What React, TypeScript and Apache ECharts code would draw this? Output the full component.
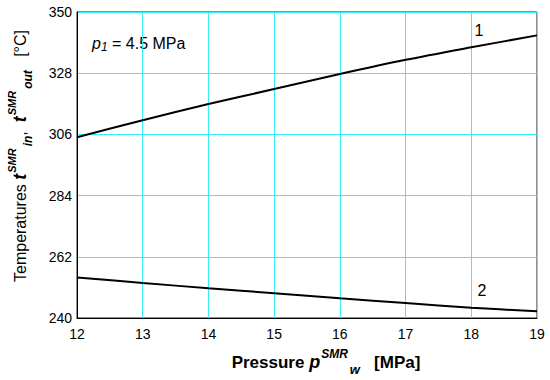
import React, { useEffect, useRef } from "react";
import * as echarts from "echarts";

const Y_BASE = 240;
const pressure = [12, 13, 14, 15, 16, 17, 18, 19];
const tOut = [305.0, 311.1, 316.9, 322.3, 327.7, 332.8, 337.3, 341.6];
const tIn = [254.6, 252.6, 250.7, 248.9, 247.1, 245.4, 243.7, 242.4];
const yTicks = [240, 262, 284, 306, 328, 350];
const xTicks = [12, 13, 14, 15, 16, 17, 18, 19];

const FONT = "'Liberation Sans', Arial, sans-serif";

export default function App() {
  const ref = useRef<HTMLDivElement>(null);
  useEffect(() => {
    if (!ref.current) return;
    document.body.style.margin = "0";
    document.body.style.overflow = "hidden";
    const chart = echarts.init(ref.current, null, { renderer: "svg" });
    const mk = (vals: number[]) => pressure.map((p, i) => [p, vals[i] - Y_BASE]);
    chart.setOption({
      animation: false,
      textStyle: { fontFamily: FONT },
      grid: { left: 77, right: 13, top: 12, bottom: 62, show: true, borderColor: "#222", borderWidth: 1, containLabel: false },
      xAxis: {
        type: "value",
        min: xTicks[0],
        max: xTicks[xTicks.length - 1],
        interval: 1,
        axisLine: { show: true, onZero: false, lineStyle: { color: "#000", width: 1 } },
        axisTick: { show: false },
        axisLabel: { color: "#000", fontSize: 14, fontFamily: FONT, margin: 9 },
        splitLine: { show: true, lineStyle: { color: "#33f0f8", width: 1 } },
      },
      yAxis: {
        type: "value",
        min: yTicks[0] - Y_BASE,
        max: yTicks[yTicks.length - 1] - Y_BASE,
        interval: 22,
        axisLine: { show: true, lineStyle: { color: "#000", width: 1 } },
        axisTick: { show: false },
        axisLabel: { color: "#000", fontSize: 14, fontFamily: FONT, margin: 5, formatter: (v: number) => String(v + Y_BASE) },
        splitLine: { show: true, lineStyle: { color: "#33f0f8", width: 1 } },
      },
      series: [
        { type: "line", data: mk(tOut), showSymbol: false, smooth: 0.3, lineStyle: { color: "#000", width: 2 } },
        { type: "line", data: mk(tIn), showSymbol: false, smooth: 0.3, lineStyle: { color: "#000", width: 2 } },
      ],
      graphic: [
        {
          type: "text",
          x: 20,
          y: 156,
          rotation: Math.PI / 2,
          style: {
            text: "{n|Temperatures }{t|t}{sup|SMR}{sub|in}{n|,  }{t|t}{sup|SMR}{sub|out}{n|   [°C]}",
            align: "center",
            verticalAlign: "middle",
            fill: "#000",
            fontFamily: FONT,
            rich: {
              n: { fontSize: 16, lineHeight: 28, fontFamily: FONT, fill: "#000" },
              t: { fontSize: 18, fontWeight: "bold", fontStyle: "italic", lineHeight: 28, fontFamily: FONT, fill: "#000" },
              sup: { fontSize: 11, fontWeight: "bold", fontStyle: "italic", lineHeight: 12, verticalAlign: "top", fontFamily: FONT, fill: "#000", padding: [0, 2, 0, 1] },
              sub: { fontSize: 12, fontWeight: "bold", fontStyle: "italic", lineHeight: 14, verticalAlign: "bottom", fontFamily: FONT, fill: "#000" },
            },
          },
        },
        {
          type: "text",
          x: 326,
          y: 362,
          style: {
            text: "{n|Pressure }{p|p}{sup|SMR}{sub|w}{n|   [MPa]}",
            align: "center",
            verticalAlign: "middle",
            fill: "#000",
            fontFamily: FONT,
            rich: {
              n: { fontSize: 17, fontWeight: "bold", lineHeight: 28, fontFamily: FONT, fill: "#000" },
              p: { fontSize: 18, fontWeight: "bold", fontStyle: "italic", lineHeight: 28, fontFamily: FONT, fill: "#000" },
              sup: { fontSize: 12, fontWeight: "bold", fontStyle: "italic", lineHeight: 12, verticalAlign: "top", fontFamily: FONT, fill: "#000", padding: [0, 2, 0, 1] },
              sub: { fontSize: 13, fontWeight: "bold", fontStyle: "italic", lineHeight: 16, verticalAlign: "bottom", fontFamily: FONT, fill: "#000" },
            },
          },
        },
        {
          type: "text",
          x: 92,
          y: 43,
          style: {
            text: "{i|p}{s|1}{n| = 4.5 MPa}",
            align: "left",
            verticalAlign: "middle",
            fill: "#000",
            fontFamily: FONT,
            rich: {
              i: { fontSize: 16, fontStyle: "italic", lineHeight: 20, fontFamily: FONT, fill: "#000" },
              s: { fontSize: 12, fontStyle: "italic", lineHeight: 13, verticalAlign: "bottom", fontFamily: FONT, fill: "#000" },
              n: { fontSize: 16, lineHeight: 20, fontFamily: FONT, fill: "#000" },
            },
          },
        },
        { type: "text", x: 479, y: 30, style: { text: "1", fontSize: 16, fontFamily: FONT, fill: "#000", align: "center", verticalAlign: "middle" } },
        { type: "text", x: 482, y: 290, style: { text: "2", fontSize: 16, fontFamily: FONT, fill: "#000", align: "center", verticalAlign: "middle" } },
      ],
    });
    return () => chart.dispose();
  }, []);
  return <div ref={ref} style={{ width: 550, height: 380 }} />;
}
